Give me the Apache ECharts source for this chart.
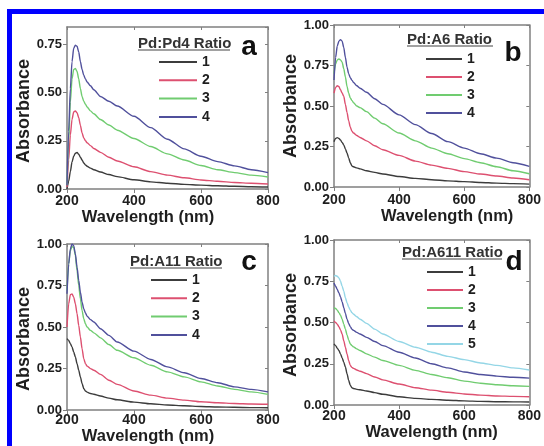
<!DOCTYPE html>
<html>
<head>
<meta charset="utf-8">
<script src="https://cdn.jsdelivr.net/npm/echarts@6/dist/echarts.min.js"></script>
<style>
html,body{margin:0;padding:0;background:#fff;}
#c{width:544px;height:446px;}
</style>
</head>
<body>
<div id="c"></div>
<script>
// Wavelength samples (nm)
var wl = [200,205,210,215,220,225,230,235,240,245,250,255,260,270,280,300,325,350,400,450,500,550,600,650,700,750,800];

// Panel a: Pd:Pd4 ratio
var a1 = [0.0,0.04,0.09,0.14,0.17,0.185,0.19,0.18,0.165,0.15,0.135,0.125,0.118,0.108,0.10,0.088,0.075,0.064,0.048,0.037,0.03,0.024,0.02,0.017,0.014,0.012,0.01];
var a2 = [0.01,0.15,0.28,0.36,0.40,0.405,0.395,0.37,0.33,0.29,0.265,0.25,0.24,0.225,0.21,0.19,0.165,0.145,0.115,0.09,0.072,0.058,0.047,0.04,0.034,0.03,0.026];
var a3 = [0.02,0.25,0.45,0.57,0.62,0.625,0.61,0.57,0.52,0.48,0.455,0.44,0.425,0.405,0.39,0.36,0.332,0.305,0.262,0.22,0.182,0.15,0.122,0.10,0.085,0.072,0.062];
var a4 = [0.02,0.30,0.52,0.66,0.73,0.745,0.74,0.71,0.66,0.62,0.59,0.57,0.555,0.535,0.515,0.48,0.455,0.43,0.377,0.318,0.258,0.208,0.17,0.142,0.12,0.10,0.085];

// Panel b: Pd:A6 ratio
var b1 = [0.28,0.30,0.305,0.30,0.29,0.275,0.26,0.235,0.21,0.18,0.15,0.13,0.125,0.118,0.112,0.10,0.09,0.08,0.065,0.053,0.045,0.038,0.033,0.028,0.024,0.021,0.018];
var b2 = [0.58,0.615,0.625,0.62,0.60,0.58,0.56,0.51,0.46,0.41,0.37,0.345,0.333,0.318,0.306,0.285,0.255,0.23,0.195,0.16,0.135,0.115,0.095,0.08,0.068,0.056,0.045];
var b3 = [0.70,0.76,0.785,0.79,0.785,0.77,0.73,0.68,0.62,0.58,0.55,0.535,0.52,0.50,0.49,0.465,0.425,0.39,0.333,0.285,0.24,0.205,0.175,0.15,0.125,0.10,0.082];
var b4 = [0.66,0.80,0.87,0.90,0.91,0.90,0.86,0.80,0.74,0.70,0.675,0.66,0.645,0.625,0.61,0.585,0.545,0.51,0.445,0.385,0.33,0.28,0.24,0.205,0.178,0.15,0.127];

// Panel c: Pd:A11 ratio
var c1 = [0.43,0.42,0.40,0.38,0.35,0.32,0.28,0.24,0.20,0.16,0.13,0.115,0.108,0.10,0.095,0.085,0.072,0.062,0.048,0.038,0.031,0.026,0.022,0.019,0.017,0.015,0.014];
var c2 = [0.50,0.64,0.695,0.70,0.68,0.64,0.58,0.51,0.44,0.37,0.31,0.28,0.265,0.25,0.24,0.215,0.18,0.155,0.115,0.09,0.072,0.06,0.05,0.044,0.04,0.037,0.035];
var c3 = [0.72,0.88,0.96,0.985,0.98,0.93,0.84,0.75,0.67,0.60,0.55,0.52,0.50,0.48,0.465,0.435,0.395,0.36,0.315,0.27,0.23,0.20,0.17,0.145,0.125,0.11,0.095];
var c4 = [0.70,0.88,0.97,1.0,0.99,0.94,0.86,0.78,0.71,0.65,0.61,0.585,0.565,0.545,0.53,0.49,0.45,0.41,0.355,0.305,0.26,0.225,0.19,0.165,0.14,0.125,0.11];

// Panel d: Pd:A611 ratio
var d1 = [0.37,0.36,0.345,0.33,0.31,0.285,0.26,0.23,0.19,0.15,0.12,0.105,0.10,0.095,0.092,0.085,0.075,0.065,0.05,0.04,0.034,0.029,0.025,0.022,0.02,0.019,0.018];
var d2 = [0.51,0.50,0.49,0.475,0.455,0.43,0.39,0.35,0.31,0.27,0.24,0.228,0.222,0.212,0.205,0.19,0.17,0.152,0.127,0.105,0.09,0.077,0.067,0.06,0.055,0.052,0.05];
var d3 = [0.59,0.585,0.575,0.56,0.545,0.52,0.49,0.46,0.425,0.395,0.37,0.36,0.352,0.34,0.33,0.31,0.29,0.27,0.24,0.21,0.185,0.165,0.145,0.132,0.123,0.117,0.113];
var d4 = [0.74,0.72,0.70,0.68,0.655,0.625,0.59,0.555,0.52,0.495,0.475,0.46,0.452,0.44,0.43,0.41,0.385,0.36,0.32,0.285,0.25,0.225,0.20,0.185,0.175,0.168,0.163];
var d5 = [0.78,0.785,0.78,0.77,0.75,0.72,0.69,0.65,0.62,0.595,0.575,0.56,0.55,0.535,0.52,0.495,0.46,0.43,0.385,0.35,0.32,0.295,0.275,0.255,0.24,0.225,0.212];

var legendNames = ['1','2','3','4','5'];
var colors = ['#3c3c3c','#dd5070','#70cc70','#50509c','#94d6e6'];
var panelTitles = ['Pd:Pd4 Ratio','Pd:A6 Ratio','Pd:A11 Ratio','Pd:A611 Ratio'];
var panelLetters = ['a','b','c','d'];
var yMax = [0.84,1.0,1.0,1.0];
var panels = [[a1,a2,a3,a4],[b1,b2,b3,b4],[c1,c2,c3,c4],[d1,d2,d3,d4,d5]];

var FONT = 'Liberation Sans, Arial, sans-serif';
var AX = '#808080';
var TXT = '#1e1e1e';

var grids = [
  {left:67, right:276, top:27, bottom:257},
  {left:334, right:9, top:25, bottom:259},
  {left:67, right:276, top:244, bottom:35},
  {left:334, right:7, top:240, bottom:41}
];
var xNameGap = [10,10,8,9];
var xLabelMargin = [5,6,3,4];
var xNamePad = [[0,39,0,0],[0,0,0,31],[0,39,0,0],[0,0,0,0]];
var yNameGap = [27,31,27,26];
var yNamePad = [[0,6,0,0],[0,0,0,0],[0,24,0,0],[0,5,0,0]];
var legendPos = [
  {left:159, top:55, w:38, gap:4.3},
  {left:426, top:52, w:36, gap:4},
  {left:151, top:273, w:36, gap:4.3},
  {left:427, top:265, w:36, gap:4}
];
var titlePos = [[138,44,92],[407,40,86],[130,262,92],[402,253,100]];
var letterPos = [[249,47.5],[513,53],[249,262.5],[514,262]];

var xAxes = [], yAxes = [], series = [], legends = [], graphics = [];

function yFmt(v){ return v.toFixed(2); }

for (var i = 0; i < 4; i++) {
  xAxes.push({
    type:'value', gridIndex:i, position:'bottom', min:200, max:800, interval:200,
    name:'Wavelength (nm)', nameLocation:'middle', nameGap:xNameGap[i],
    nameTextStyle:{fontFamily:FONT, fontWeight:'bold', fontSize:16.5, color:TXT, padding:xNamePad[i]},
    axisLine:{show:true, onZero:false, lineStyle:{color:AX, width:1.5}},
    axisTick:{show:true, inside:false, length:4, lineStyle:{color:AX, width:1}},
    axisLabel:{fontFamily:FONT, fontWeight:'bold', fontSize:14, color:TXT, margin:xLabelMargin[i]},
    splitLine:{show:false}
  });
  yAxes.push({
    type:'value', gridIndex:i, position:'left', min:0, max:yMax[i], interval:0.25,
    name:'Absorbance', nameLocation:'middle', nameGap:yNameGap[i],
    nameTextStyle:{fontFamily:FONT, fontWeight:'bold', fontSize:18, color:TXT, padding:yNamePad[i]},
    axisLine:{show:true, onZero:false, lineStyle:{color:AX, width:1.5}},
    axisTick:{show:true, inside:false, length:4, lineStyle:{color:AX, width:1}},
    axisLabel:{fontFamily:FONT, fontWeight:'bold', fontSize:13, color:TXT, margin:5, showMaxLabel: yMax[i] === 1.0, formatter:yFmt},
    splitLine:{show:false}
  });
}
for (var j = 0; j < 4; j++) {
  xAxes.push({
    type:'value', gridIndex:j, position:'top', min:200, max:800, interval:200,
    axisLine:{show:true, onZero:false, lineStyle:{color:AX, width:1.5}},
    axisTick:{show:true, inside:true, length:3, lineStyle:{color:AX}},
    axisLabel:{show:false}, splitLine:{show:false}
  });
  yAxes.push({
    type:'value', gridIndex:j, position:'right', min:0, max:yMax[j], interval:0.25,
    axisLine:{show:true, onZero:false, lineStyle:{color:AX, width:1.5}},
    axisTick:{show:true, inside:true, length:3, lineStyle:{color:AX}},
    axisLabel:{show:false}, splitLine:{show:false}
  });
}

panels.forEach(function(arrs, p) {
  var names = [];
  arrs.forEach(function(arr, k) {
    names.push(legendNames[k]);
    series.push({
      type:'line', name:legendNames[k], xAxisIndex:p, yAxisIndex:p,
      data: wl.map(function(x, idx){ return [x, arr[idx]]; }),
      showSymbol:false, smooth:0.25, smoothMonotone:'x',
      lineStyle:{color:colors[k], width:1.4}, itemStyle:{color:colors[k]}
    });
  });
  var lp = legendPos[p];
  legends.push({
    data: names, orient:'vertical', left:lp.left, top:lp.top, padding:0,
    itemWidth:lp.w, itemHeight:2, itemGap:lp.gap, icon:'rect',
    selectedMode:false,
    textStyle:{fontFamily:FONT, fontWeight:'bold', fontSize:14, lineHeight:14, color:TXT}
  });
  var tp = titlePos[p];
  graphics.push({
    type:'text', x:tp[0], y:tp[1], silent:true,
    style:{text:panelTitles[p], font:'bold 15px ' + FONT, fill:'#333', verticalAlign:'middle'}
  });
  graphics.push({
    type:'line', silent:true,
    shape:{x1:tp[0], y1:tp[1]+6, x2:tp[0]+tp[2], y2:tp[1]+6},
    style:{stroke:'#444', lineWidth:1.2}
  });
  var lt = letterPos[p];
  graphics.push({
    type:'text', x:lt[0], y:lt[1], silent:true,
    style:{text:panelLetters[p], font:'bold 28px ' + FONT, fill:'#111', align:'center', verticalAlign:'middle'}
  });
});

// blue frame
graphics.push({type:'rect', silent:true, shape:{x:7, y:9, width:537, height:5}, style:{fill:'#0000ff'}});
graphics.push({type:'rect', silent:true, shape:{x:7, y:9, width:5, height:437}, style:{fill:'#0000ff'}});

var chart = echarts.init(document.getElementById('c'));
chart.setOption({
  animation:false,
  grid: grids,
  xAxis: xAxes,
  yAxis: yAxes,
  legend: legends,
  series: series,
  graphic: graphics
});
</script>
</body>
</html>
